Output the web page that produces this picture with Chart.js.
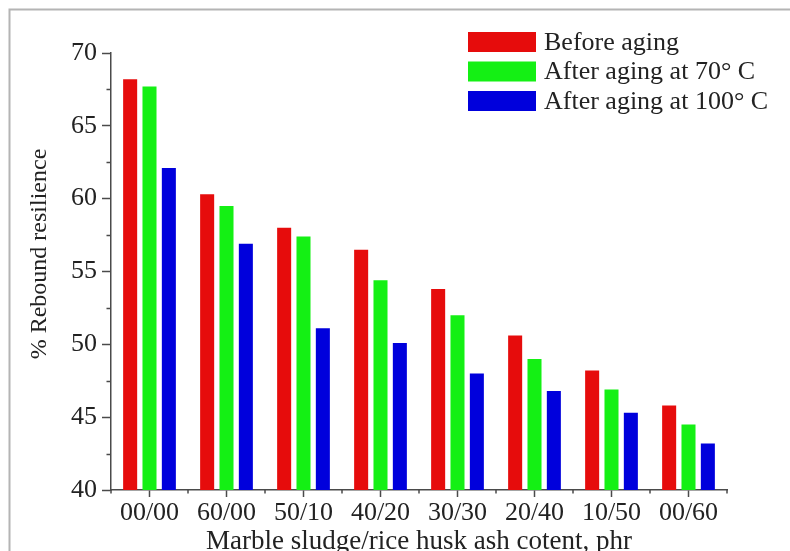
<!DOCTYPE html>
<html>
<head>
<meta charset="utf-8">
<script src="https://cdn.jsdelivr.net/npm/chart.js@4/dist/chart.umd.min.js"></script>
<style>
  html, body { margin: 0; padding: 0; background: #ffffff; }
  #wrap { width: 790px; height: 551px; position: relative; }
  canvas { display: block; }
</style>
</head>
<body>
<div id="wrap"><canvas id="chart" width="790" height="551"></canvas></div>
<script>
// Mix ratios of marble sludge / rice husk ash (phr)
const categories = ['00/00', '60/00', '50/10', '40/20', '30/30', '20/40', '10/50', '00/60'];

// % rebound resilience for each aging condition
const beforeAging = [68.2, 60.3, 58.0, 56.5, 53.8, 50.6, 48.2, 45.8];
const after70 = [67.7, 59.5, 57.4, 54.4, 52.0, 49.0, 46.9, 44.5];
const after100 = [62.1, 56.9, 51.1, 50.1, 48.0, 46.8, 45.3, 43.2];

const seriesLabels = ['Before aging', 'After aging at 70\u00B0 C', 'After aging at 100\u00B0 C'];
const yTicks = [40, 45, 50, 55, 60, 65, 70];

const xTitle = 'Marble sludge/rice husk ash cotent, phr';
const yTitle = '% Rebound resilience';

const SERIF = "'Liberation Serif', 'Times New Roman', serif";
const AXIS_COLOR = '#4a4a4a';
const TEXT_COLOR = '#222222';

// Frame, minor ticks, axis titles and legend
const decorations = {
  id: 'decorations',
  afterDraw(chart) {
    const ctx = chart.ctx;
    const ys = chart.scales.y;
    const area = chart.chartArea;
    ctx.save();

    // outer frame (top and left edges)
    ctx.strokeStyle = '#b4b4b4';
    ctx.lineWidth = 2;
    ctx.beginPath();
    ctx.moveTo(9.5, 551);
    ctx.lineTo(9.5, 9.5);
    ctx.lineTo(790, 9.5);
    ctx.stroke();

    // minor ticks on y axis
    ctx.strokeStyle = AXIS_COLOR;
    ctx.lineWidth = 1.5;
    ctx.beginPath();
    for (let i = 0; i < yTicks.length - 1; i++) {
      const v = (yTicks[i] + yTicks[i + 1]) / 2;
      const py = Math.round(ys.getPixelForValue(v)) + 0.5;
      ctx.moveTo(area.left - 4.5, py);
      ctx.lineTo(area.left, py);
    }
    // minor ticks at category boundaries on x axis
    const step = (area.right - area.left) / categories.length;
    for (let i = 0; i <= categories.length; i++) {
      const px = area.left + i * step;
      ctx.moveTo(px, area.bottom);
      ctx.lineTo(px, area.bottom + 3.5);
    }
    ctx.stroke();

    // axis titles
    ctx.fillStyle = TEXT_COLOR;
    ctx.font = '27px ' + SERIF;
    ctx.textAlign = 'center';
    ctx.textBaseline = 'alphabetic';
    ctx.fillText(xTitle, (area.left + area.right) / 2, 549);

    ctx.save();
    ctx.translate(40, 254);
    ctx.rotate(-Math.PI / 2);
    ctx.font = '24px ' + SERIF;
    ctx.textBaseline = 'middle';
    ctx.fillText(yTitle, 0, 0);
    ctx.restore();

    // legend
    const rows = [42, 71.5, 101];
    ctx.font = '26px ' + SERIF;
    ctx.textAlign = 'left';
    ctx.textBaseline = 'middle';
    chart.data.datasets.forEach((ds, i) => {
      ctx.fillStyle = ds.backgroundColor;
      ctx.fillRect(468, rows[i] - 10, 68, 20);
      ctx.fillStyle = TEXT_COLOR;
      ctx.fillText(ds.label, 544, rows[i] + 1);
    });

    ctx.restore();
  }
};

new Chart(document.getElementById('chart'), {
  type: 'bar',
  data: {
    labels: categories,
    datasets: [
      { label: seriesLabels[0], data: beforeAging, backgroundColor: '#e60c0c' },
      { label: seriesLabels[1], data: after70, backgroundColor: '#14f014' },
      { label: seriesLabels[2], data: after100, backgroundColor: '#0000dc' }
    ]
  },
  options: {
    responsive: false,
    animation: false,
    devicePixelRatio: 1,
    layout: { padding: { left: 10, top: 53, right: 63, bottom: 0 } },
    datasets: {
      bar: { categoryPercentage: 0.754, barPercentage: 0.725, borderWidth: 0 }
    },
    plugins: {
      legend: { display: false },
      tooltip: { enabled: false },
      title: { display: false }
    },
    scales: {
      x: {
        offset: true,
        afterFit(scale) { scale.height = 61; },
        grid: {
          offset: false,
          drawOnChartArea: false,
          drawTicks: true,
          tickLength: 7,
          color: AXIS_COLOR,
          tickWidth: 1.5
        },
        border: { display: true, color: AXIS_COLOR, width: 1.5 },
        ticks: {
          color: TEXT_COLOR,
          font: { family: SERIF, size: 26 },
          padding: 1,
          maxRotation: 0,
          autoSkip: false
        }
      },
      y: {
        min: 40,
        max: 70,
        afterFit(scale) { scale.width = 101; },
        afterBuildTicks(scale) { scale.ticks = yTicks.map(v => ({ value: v })); },
        grid: {
          drawOnChartArea: false,
          drawTicks: true,
          tickLength: 9,
          color: AXIS_COLOR,
          tickWidth: 1.5
        },
        border: { display: true, color: AXIS_COLOR, width: 1.5 },
        ticks: {
          color: TEXT_COLOR,
          font: { family: SERIF, size: 26 },
          padding: 5
        }
      }
    }
  },
  plugins: [decorations]
});
</script>
</body>
</html>
